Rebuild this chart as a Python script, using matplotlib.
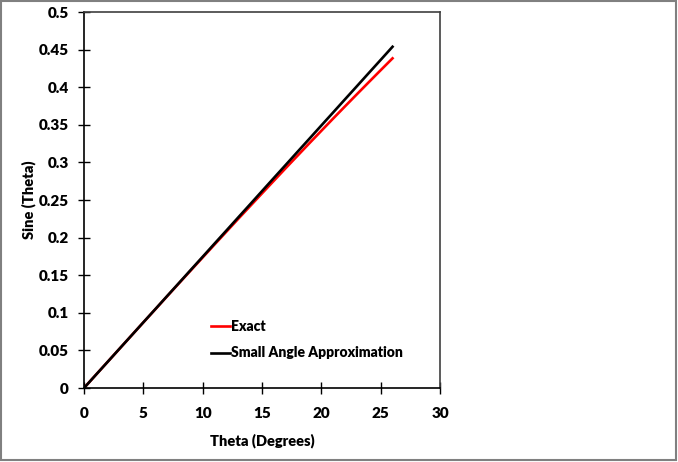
import matplotlib
matplotlib.use("Agg")
import matplotlib.pyplot as plt
from matplotlib.patches import Rectangle

theta_deg = [0, 1, 2, 3, 4, 5, 6, 7, 8, 9, 10, 11, 12, 13, 14, 15, 16, 17, 18, 19, 20, 21, 22, 23, 24, 25, 26]
exact = [0.0, 0.0175, 0.0349, 0.0523, 0.0698, 0.0872, 0.1045, 0.1219, 0.1392, 0.1564, 0.1736,
         0.1908, 0.2079, 0.2250, 0.2419, 0.2588, 0.2756, 0.2924, 0.3090, 0.3256, 0.3420,
         0.3584, 0.3746, 0.3907, 0.4067, 0.4226, 0.4384]
small_angle = [0.0, 0.0175, 0.0349, 0.0524, 0.0698, 0.0873, 0.1047, 0.1222, 0.1396, 0.1571, 0.1745,
               0.1920, 0.2094, 0.2269, 0.2443, 0.2618, 0.2793, 0.2967, 0.3142, 0.3316, 0.3491,
               0.3665, 0.3840, 0.4014, 0.4189, 0.4363, 0.4538]
x_ticks = [0, 5, 10, 15, 20, 25, 30]
y_ticks = [0, 0.05, 0.1, 0.15, 0.2, 0.25, 0.3, 0.35, 0.4, 0.45, 0.5]
y_labels = ["0", "0.05", "0.1", "0.15", "0.2", "0.25", "0.3", "0.35", "0.4", "0.45", "0.5"]

plt.rcParams['font.family'] = ['Lato', 'DejaVu Sans']
plt.rcParams['font.weight'] = 'heavy'

fig = plt.figure(figsize=(6.78, 4.62), dpi=100)
ax = fig.add_axes([84/678, 1 - 388/462, (440 - 84)/678, (388 - 12)/462])

ax.plot(theta_deg, exact, color='#ff0000', lw=1.9, label='Exact')
ax.plot(theta_deg, small_angle, color='#000000', lw=1.9, label='Small Angle Approximation')

ax.set_xlim(0, 30)
ax.set_ylim(0, 0.5)
ax.set_xticks(x_ticks)
ax.set_xticklabels([str(t) for t in x_ticks], fontweight='heavy')
ax.set_yticks(y_ticks)
ax.set_yticklabels(y_labels, fontweight='heavy')
ax.tick_params(direction='inout', length=8, width=1, labelsize=11, pad=7)
ax.tick_params(axis='x', pad=10)
for s in ax.spines.values():
    s.set_linewidth(1.2)
    s.set_color('black')
for s in ['top', 'right']:
    ax.spines[s].set_color('#404040')

ax.set_xlabel('Theta (Degrees)', fontsize=10.5, fontweight='heavy', labelpad=9)
ax.set_ylabel('Sine (Theta)', fontsize=10.5, fontweight='heavy', labelpad=2)

leg = ax.legend(loc='upper left', bbox_to_anchor=(0.34, 0.195), frameon=False,
                fontsize=10, handlelength=1.4, handletextpad=0.1, labelspacing=0.95,
                borderaxespad=0)
for t in leg.get_texts():
    t.set_fontweight('heavy')

fig.patches.append(Rectangle((0.002, 0.004), 0.995, 0.993, transform=fig.transFigure,
                             fill=False, edgecolor='#808080', lw=1.5))

fig.savefig('out.png', dpi=100)
